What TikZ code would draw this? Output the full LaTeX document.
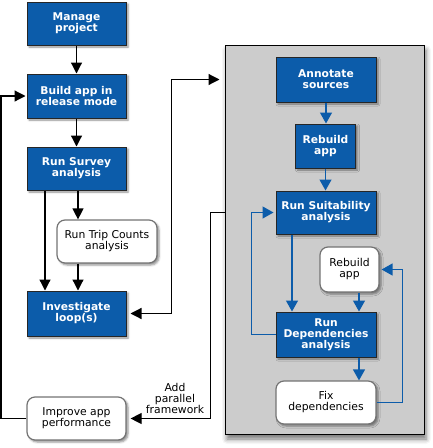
\documentclass[tikz,border=0pt]{standalone}
\usepackage{fontspec}
\setmainfont{DejaVu Sans}
\usetikzlibrary{arrows.meta,shadows.blur}

\definecolor{flowblue}{RGB}{12,92,170}
\definecolor{panelgray}{RGB}{204,204,204}

\begin{document}
\begin{tikzpicture}[x=1pt,y=-1pt,
    bluebox/.style={draw=black!85,line width=1pt,fill=flowblue,text=white,align=center,inner sep=0pt,
      font=\fontsize{10.7}{11}\selectfont\bfseries,
      blur shadow={shadow xshift=2pt,shadow yshift=-2pt,shadow blur radius=2pt,shadow opacity=45}},
    whitebox/.style={draw=black!55,line width=1.2pt,fill=white,rounded corners=8pt,align=center,inner sep=0pt,
      font=\fontsize{10.8}{11}\selectfont,
      blur shadow={shadow xshift=2pt,shadow yshift=-2pt,shadow blur radius=2pt,shadow opacity=45}},
    link/.style={line width=1.2pt,-{Triangle[width=11pt,length=11pt]}},
    bothlink/.style={line width=1.2pt,{Triangle[width=11pt,length=11pt]}-{Triangle[width=11pt,length=11pt]}},
    bluelink/.style={line width=1.3pt,flowblue,-{Triangle[width=12pt,length=11pt]}}]
    \useasboundingbox (0,0) rectangle (433,448);

    % Grey panel for the threading workflow
    \node[draw=black,line width=1pt,fill=panelgray,minimum width=199pt,minimum height=389pt,
      blur shadow={shadow xshift=2pt,shadow yshift=-5pt,shadow blur radius=5pt,shadow opacity=55}]
      (panel) at (324.5,239.5) {};

    % Main loop on the left
    \node[bluebox,minimum width=99pt,minimum height=43pt] (manage) at (76.5,23.5) {Manage\\project};
    \node[bluebox,minimum width=99pt,minimum height=44pt] (build) at (76.5,96) {Build app in\\release mode};
    \node[bluebox,minimum width=99pt,minimum height=43pt] (survey) at (76.5,168.5) {Run Survey\\analysis};
    \node[whitebox,minimum width=100pt,minimum height=43pt] (trip) at (107,241.5) {Run Trip Counts\\analysis};
    \node[bluebox,minimum width=99pt,minimum height=45pt] (invest) at (76.5,313.5) {Investigate\\loop(s)};
    \node[whitebox,minimum width=99pt,minimum height=43pt] (improve) at (76.5,418.5) {Improve app\\performance};
    \node[font=\fontsize{10.8}{11}\selectfont,align=center] (addlabel) at (175,398) {Add\\parallel\\framework};

    % Steps inside the panel
    \node[bluebox,minimum width=100pt,minimum height=45pt] (annotate) at (326,79.5) {Annotate\\sources};
    \node[bluebox,minimum width=60pt,minimum height=44pt] (rebuild) at (325.5,146) {Rebuild\\app};
    \node[bluebox,minimum width=100pt,minimum height=43pt] (suit) at (326,212.5) {Run Suitability\\analysis};
    \node[whitebox,minimum width=59pt,minimum height=45pt] (rebuildb) at (349.5,269.5) {Rebuild\\app};
    \node[bluebox,minimum width=100pt,minimum height=45pt] (dep) at (326,334.5) {Run\\Dependencies\\analysis};
    \node[whitebox,minimum width=100pt,minimum height=43pt] (fix) at (326,402.5) {Fix\\dependencies};
    \coordinate (panelin) at ([shift={(-5,35)}]panel.north west);

    % Black connectors
    \draw[link] (manage.south) -- (build.north);
    \draw[link] (build.south) -- (survey.north);
    \draw[link] ([xshift=1.5]survey.south) -- ([xshift=1.5]survey.south |- trip.north);
    \draw[link] ([xshift=-31.5]survey.south) -- ([xshift=-31.5]invest.north);
    \draw[link] ([xshift=1.5]invest.north |- trip.south) -- ([xshift=1.5]invest.north);
    \draw[bothlink] ([xshift=4]invest.east) -- ++(41,0) |- (panelin);
    \draw[link] (panel.west |- suit.west) -- ++(-14,0) |- ([xshift=4]improve.east);
    \draw[link] (improve.west) -- ++(-25.5,0) |- ([xshift=-1]build.west);

    % Blue connectors
    \draw[bluelink] (annotate.south) -- (annotate.south |- rebuild.north);
    \draw[bluelink] (rebuild.south) -- (rebuild.south |- suit.north);
    \draw[bluelink] ([xshift=-34]suit.south) -- ([xshift=-34]dep.north);
    \draw[bluelink] (dep.west) -- ++(-24,0) |- ([xshift=-2]suit.west);
    \draw[bluelink] ([xshift=33]dep.north |- rebuildb.south) -- ([xshift=33]dep.north);
    \draw[bluelink] ([xshift=33]dep.south) -- ([xshift=33]fix.north);
    \draw[bluelink] (fix.east) -- ++(26,0) |- ([xshift=2]rebuildb.east);
\end{tikzpicture}
\end{document}
